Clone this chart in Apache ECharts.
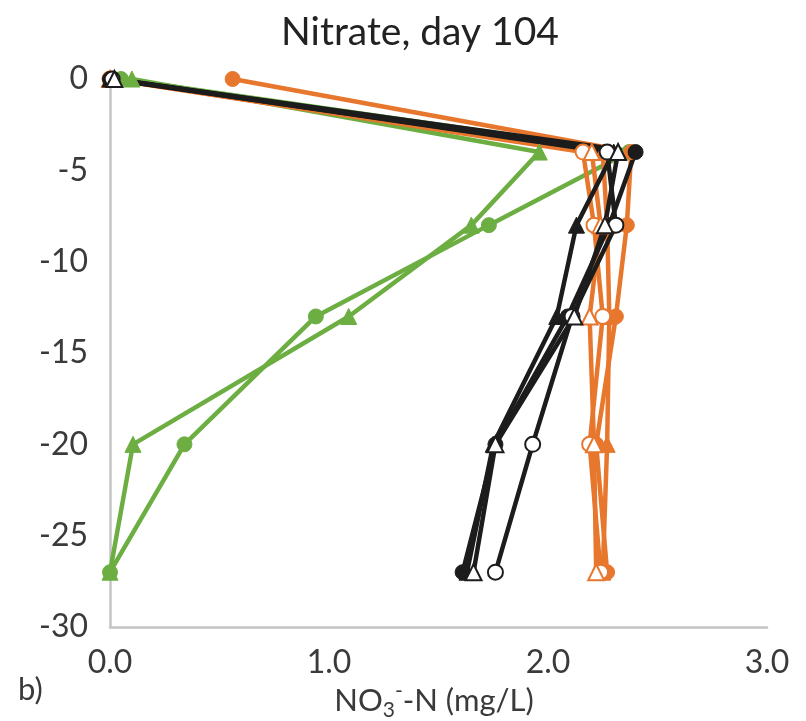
<!DOCTYPE html>
<html><head><meta charset="utf-8">
<script src="https://cdn.jsdelivr.net/npm/echarts@6/dist/echarts.min.js"></script>
<style>html,body{margin:0;padding:0;background:#fff}#c{width:806px;height:721px}</style>
</head><body><div id="c"></div>
<script>
const depths = [0, -4, -8, -13, -20, -27];
const xTicks = [0, 1, 2, 3];
const yTicks = [0, -5, -10, -15, -20, -25, -30];

const orangeFilledCircle = [0.56, 2.38, 2.36, 2.31, 2.22, 2.27];
const orangeOpenCircle   = [0.00, 2.16, 2.21, 2.25, 2.19, 2.24];
const orangeFilledTri    = [0.00, 2.25, 2.27, 2.28, 2.27, 2.25];
const orangeOpenTri      = [0.00, 2.20, 2.24, 2.19, 2.21, 2.22];
const blackFilledCircle  = [0.00, 2.40, 2.28, 2.09, 1.76, 1.61];
const blackOpenCircle    = [0.01, 2.27, 2.31, 2.11, 1.93, 1.76];
const blackFilledTri     = [0.00, 2.30, 2.13, 2.04, 1.75, 1.63];
const blackOpenTri       = [0.02, 2.32, 2.26, 2.12, 1.76, 1.66];
const greenFilledCircle  = [0.05, 2.37, 1.73, 0.94, 0.34, 0.00];
const greenFilledTri     = [0.10, 1.96, 1.65, 1.09, 0.105, 0.00];

const ORANGE = '#E8772E', BLACK = '#1c1c1c', GREEN = '#6DAE43';
const FONT = 'Lato, "Open Sans", sans-serif';
const TXT = '#3a3a3a';

function mk(name, vals, color, shape, open) {
  const isTri = shape === 'triangle';
  return {
    name, type: 'line',
    data: vals.map((v, i) => [v, depths[i]]),
    symbol: shape,
    symbolSize: isTri ? 16 : 15,
    lineStyle: { color, width: 4.5 },
    itemStyle: open ? { color: '#fff', borderColor: color, borderWidth: 2 }
                    : { color, borderColor: color, borderWidth: 1 },
    emphasis: { disabled: true },
    animation: false, z: 2
  };
}

const chart = echarts.init(document.getElementById('c'));
chart.setOption({
  animation: false,
  grid: { left: 110, right: 39, top: 79, bottom: 94 },
  xAxis: {
    type: 'value', min: 0, max: 3, interval: 1,
    axisLine: { show: true, onZero: false, lineStyle: { color: '#c4c4c4', width: 2.5 } },
    axisTick: { show: false },
    splitLine: { show: false },
    axisLabel: { margin: 20, fontSize: 32, color: TXT, fontFamily: FONT,
      formatter: v => v.toFixed(1) }
  },
  yAxis: {
    type: 'value', min: -30, max: 0, interval: 5,
    axisLine: { show: true, lineStyle: { color: '#c4c4c4', width: 2.5 } },
    axisTick: { show: false },
    splitLine: { show: false },
    axisLabel: { margin: 22, fontSize: 32, color: TXT, fontFamily: FONT }
  },
  graphic: [
    { type: 'text', x: 420, y: 32, style: { text: 'Nitrate, day 104', align: 'center', verticalAlign: 'middle', fontSize: 39, fill: '#222', fontFamily: FONT } },
    { type: 'text', x: 18, y: 690, style: { text: 'b)', verticalAlign: 'middle', fontSize: 31, fill: TXT, fontFamily: FONT } },
    { type: 'text', x: 434, y: 701, style: {
        text: '{a|NO}{s|3}{p|-}{a|-N (mg/L)}',
        align: 'center', verticalAlign: 'middle',
        rich: {
          a: { fontSize: 31, fill: TXT, fontFamily: FONT, lineHeight: 40, verticalAlign: 'middle' },
          s: { fontSize: 21, fill: TXT, fontFamily: FONT, verticalAlign: 'bottom', lineHeight: 40, padding:[18,0,0,0] },
          p: { fontSize: 21, fill: TXT, fontFamily: FONT, verticalAlign: 'top', lineHeight: 40, padding:[0,0,14,0] }
        }
      } }
  ],
  series: [
    mk('gfc', greenFilledCircle, GREEN, 'circle', false),
    mk('gft', greenFilledTri, GREEN, 'triangle', false),
    mk('ofc', orangeFilledCircle, ORANGE, 'circle', false),
    mk('oft', orangeFilledTri, ORANGE, 'triangle', false),
    mk('ooc', orangeOpenCircle, ORANGE, 'circle', true),
    mk('oot', orangeOpenTri, ORANGE, 'triangle', true),
    mk('bft', blackFilledTri, BLACK, 'triangle', false),
    mk('bfc', blackFilledCircle, BLACK, 'circle', false),
    mk('boc', blackOpenCircle, BLACK, 'circle', true),
    mk('bot', blackOpenTri, BLACK, 'triangle', true)
  ]
});
</script></body></html>
